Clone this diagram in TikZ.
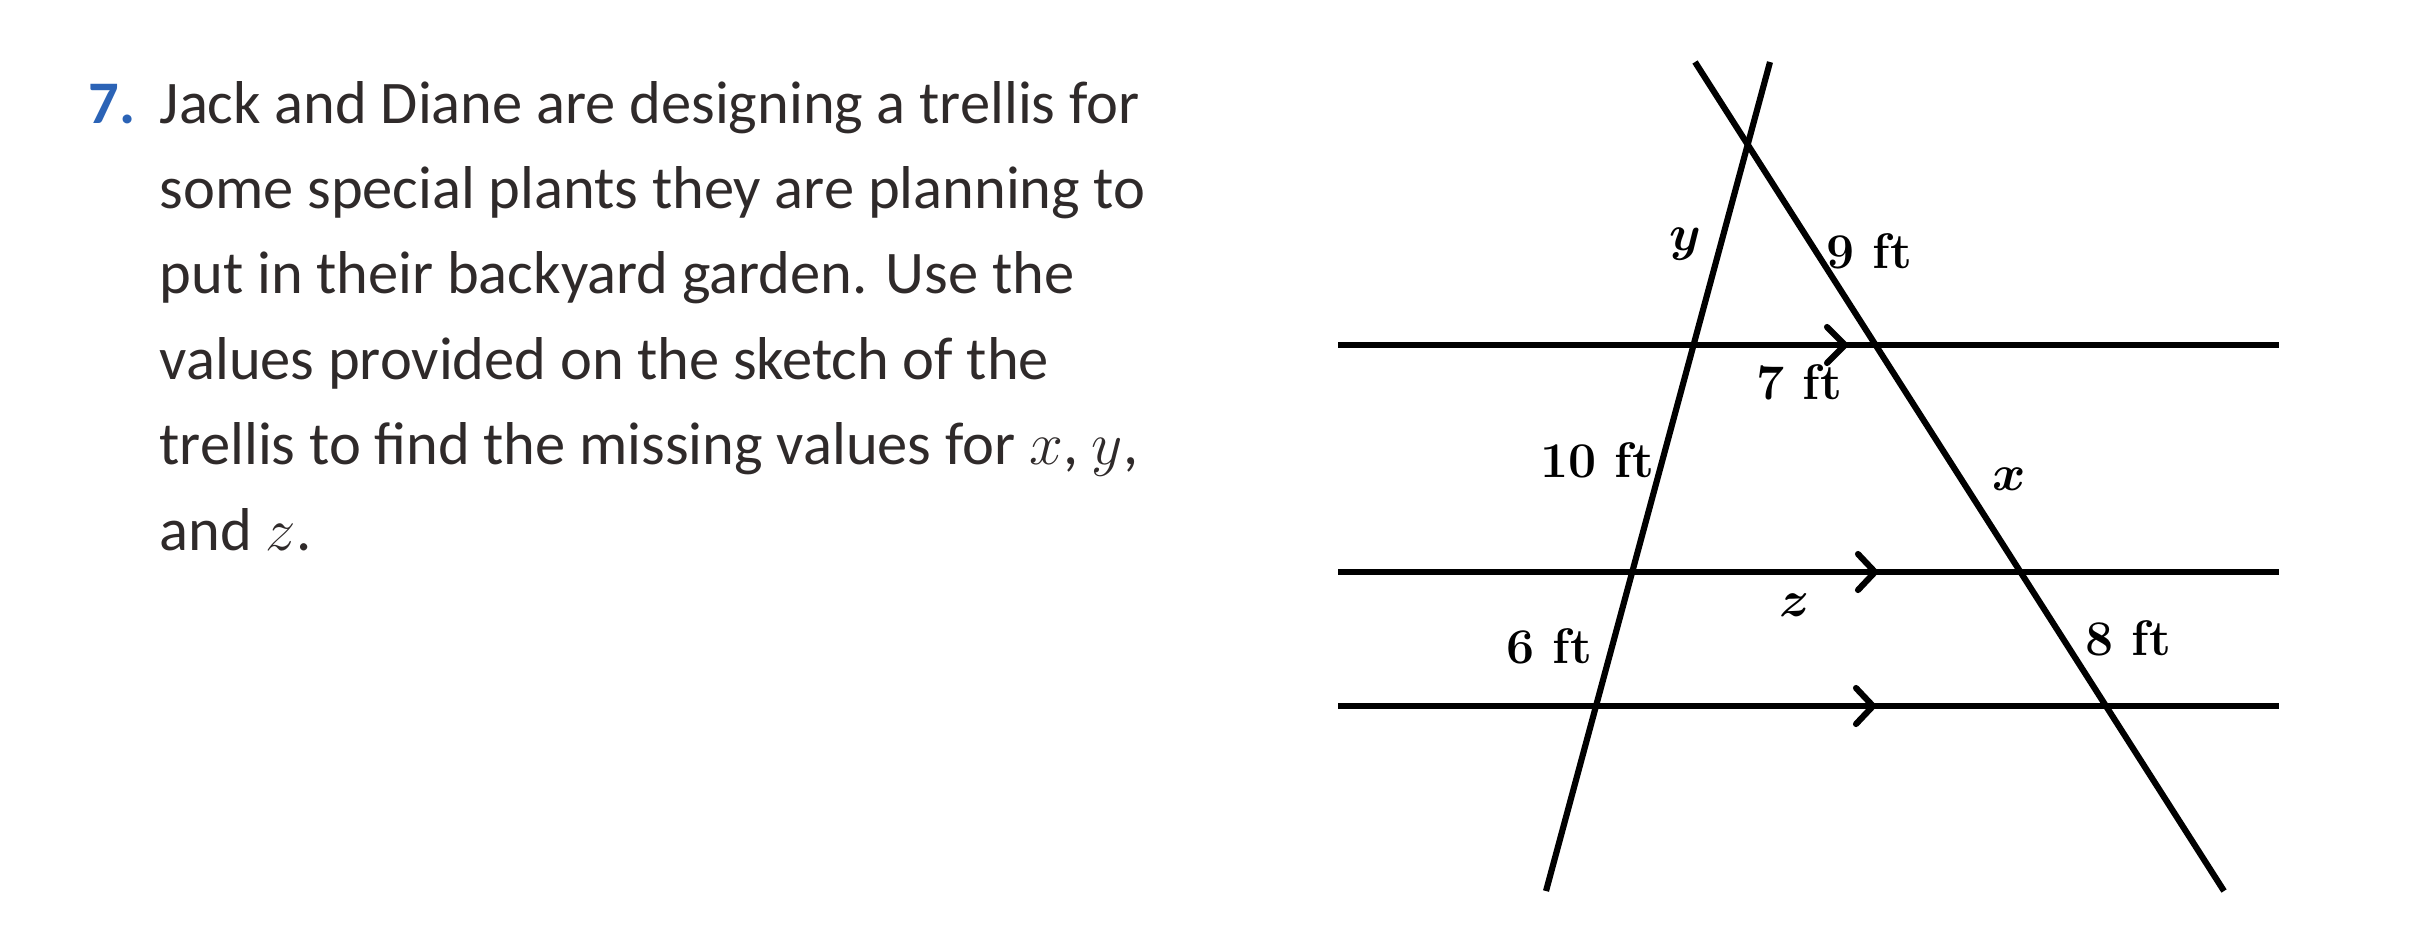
\documentclass[tikz,border=0pt]{standalone}
\usepackage{fontspec}
\setmainfont{Carlito}
\newfontfamily\lmfont{Latin Modern Roman}
\definecolor{bodytext}{HTML}{2F2A2A}
\definecolor{numblue}{HTML}{2B63B6}
\tikzset{
  trellis/.style={line width=1.75pt, black},
  chevron/.style={line width=1.75pt, black, line cap=round, line join=miter},
  bodyline/.style={anchor=base west, inner sep=0pt, text=bodytext, font=\fontsize{17.2}{20}\selectfont},
  lab/.style={inner sep=0pt, font=\lmfont\bfseries\fontsize{14.2}{16}\selectfont},
  mlab/.style={inner sep=0pt, font=\fontsize{14.4}{16}\selectfont\boldmath}
}
\begin{document}
\begin{tikzpicture}[x=0.01cm,y=-0.01cm]
\useasboundingbox (0,0) rectangle (2418,929);
% problem text
\node[anchor=base west, inner sep=0pt, text=numblue, font=\fontsize{17.2}{20}\selectfont\bfseries] (num) at (88,123) {7.};
\node[bodyline] (l1) at (159,123) {Jack and Diane are designing a trellis for};
\node[bodyline] (l2) at (159,208) {some special plants they are planning to};
\node[bodyline] (l3) at (159,293) {put in their backyard garden. Use the};
\node[bodyline] (l4) at (159,379) {values provided on the sketch of the};
\node[bodyline] (l5) at (159,464) {trellis to find the missing values for $x$, $y$,};
\node[bodyline] (l6) at (159,550) {and $z$.};
% trellis lines
\coordinate (LT) at (1770,62);
\coordinate (LB) at (1546,891);
\coordinate (RT) at (1695,62);
\coordinate (RB) at (2224,891);
\coordinate (H1L) at (1338,345); \coordinate (H1R) at (2279,345);
\coordinate (H2L) at (1338,572); \coordinate (H2R) at (2279,572);
\coordinate (H3L) at (1338,706); \coordinate (H3R) at (2279,706);
\draw[trellis] (LT) -- (LB);
\draw[trellis] (RT) -- (RB);
\draw[trellis] (H1L) -- (H1R);
\draw[trellis] (H2L) -- (H2R);
\draw[trellis] (H3L) -- (H3R);
% parallel marks
\coordinate (A1) at (1845,345);
\coordinate (A2) at (1875,572);
\coordinate (A3) at (1873,706);
\draw[chevron] ([shift={(-18,-18)}]A1) -- (A1) -- ([shift={(-18,18)}]A1);
\draw[chevron] ([shift={(-17,-18)}]A2) -- (A2) -- ([shift={(-17,18)}]A2);
\draw[chevron] ([shift={(-17,-18)}]A3) -- (A3) -- ([shift={(-17,18)}]A3);
% labels
\node[mlab] (ly) at (1685,244) {$y$};
\node[lab] (l9) at (1869,251) {9 ft};
\node[lab] (l7) at (1799,382) {7 ft};
\node[lab] (l10) at (1597,460) {10 ft};
\node[mlab] (lx) at (2009,479) {$x$};
\node[mlab] (lz) at (1795,605) {$z$};
\node[lab] (l6ft) at (1549,646) {6 ft};
\node[lab] (l8ft) at (2128,638) {8 ft};
\end{tikzpicture}
\end{document}
